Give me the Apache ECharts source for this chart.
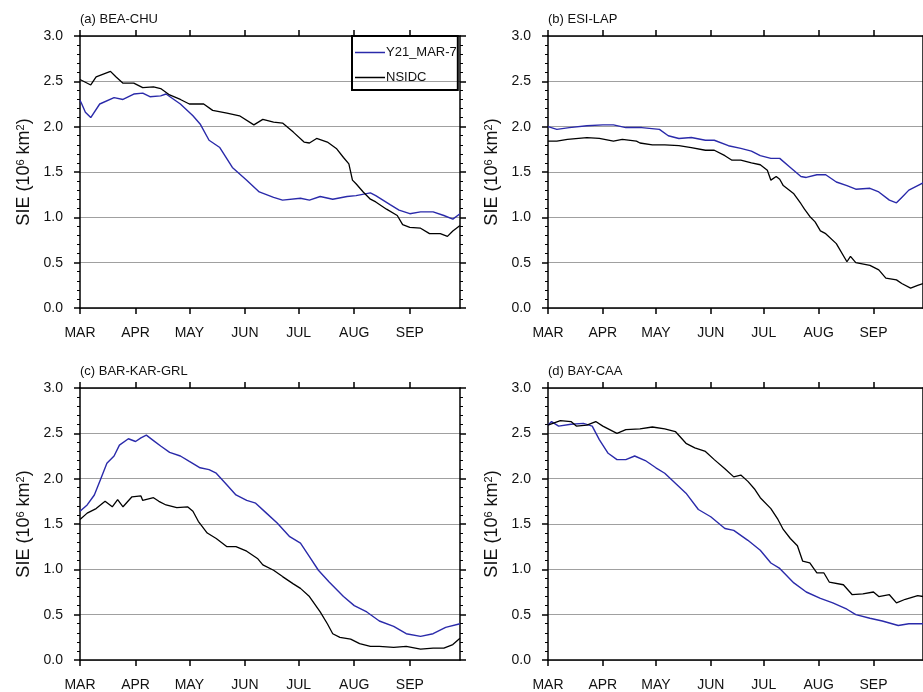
<!DOCTYPE html>
<html>
<head>
<meta charset="utf-8">
<script src="https://cdn.jsdelivr.net/npm/echarts@6/dist/echarts.min.js"></script>
<style>html,body{margin:0;padding:0;background:#fff}#c{width:923px;height:692px}</style>
</head>
<body>
<div id="c"></div>
<script>
// x = day index since 1 March
const monthStarts = [0, 31, 61, 92, 122, 153, 184];
const monthNames = ['MAR', 'APR', 'MAY', 'JUN', 'JUL', 'AUG', 'SEP'];
const yTicks = [0, 0.5, 1.0, 1.5, 2.0, 2.5, 3.0];
const panelTitles = ['(a) BEA-CHU', '(b) ESI-LAP', '(c) BAR-KAR-GRL', '(d) BAY-CAA'];
const seriesNames = ['Y21_MAR-7', 'NSIDC'];

// (a) BEA-CHU
const aModelDays = [0,1,3,6,11,19,24,30,35,39,45,48,56,63,67,72,78,85,93,100,108,113,123,128,134,141,149,154,162,165,173,178,184,190,197,203,208,212];
const aModelSIE  = [2.29,2.25,2.16,2.10,2.25,2.32,2.30,2.36,2.37,2.33,2.34,2.36,2.25,2.12,2.03,1.85,1.77,1.55,1.41,1.28,1.22,1.19,1.21,1.19,1.23,1.20,1.23,1.24,1.27,1.24,1.14,1.08,1.04,1.06,1.06,1.02,0.98,1.04];
const aObsDays = [0,6,9,13,17,20,24,30,35,41,45,50,56,61,69,74,82,89,97,102,108,113,119,125,128,132,138,143,147,150,152,154,158,162,165,171,177,180,184,190,195,201,205,208,212];
const aObsSIE  = [2.52,2.46,2.55,2.58,2.61,2.55,2.48,2.48,2.43,2.44,2.42,2.35,2.30,2.25,2.25,2.18,2.15,2.12,2.02,2.08,2.05,2.04,1.94,1.83,1.82,1.87,1.83,1.76,1.66,1.59,1.41,1.37,1.28,1.20,1.17,1.09,1.02,0.92,0.89,0.88,0.82,0.82,0.79,0.85,0.91];

// (b) ESI-LAP
const bModelDays = [0,5,12,22,31,37,44,53,63,68,74,81,89,94,102,109,115,120,126,131,137,143,146,152,157,163,169,174,182,187,193,197,200,204,209,212];
const bModelSIE  = [2.00,1.97,1.99,2.01,2.02,2.02,1.99,1.99,1.97,1.90,1.87,1.88,1.85,1.85,1.79,1.76,1.73,1.68,1.65,1.65,1.55,1.45,1.44,1.47,1.47,1.39,1.35,1.31,1.32,1.28,1.19,1.16,1.22,1.30,1.35,1.38];
const bObsDays = [0,5,11,22,29,37,42,50,52,59,66,74,81,89,94,100,104,109,115,120,124,126,129,131,133,139,143,145,148,151,154,157,163,169,171,174,182,187,191,197,200,205,209,212];
const bObsSIE  = [1.84,1.84,1.86,1.88,1.87,1.84,1.86,1.84,1.82,1.80,1.80,1.79,1.77,1.74,1.74,1.68,1.63,1.63,1.60,1.58,1.52,1.41,1.45,1.42,1.35,1.26,1.15,1.09,1.01,0.95,0.85,0.82,0.71,0.51,0.57,0.50,0.47,0.42,0.33,0.31,0.27,0.22,0.25,0.27];

// (c) BAR-KAR-GRL
const cModelDays = [0,4,8,11,15,19,22,27,31,34,37,41,45,50,56,61,67,72,76,82,87,93,98,104,110,117,123,128,133,139,147,153,160,167,175,182,190,197,204,212];
const cModelSIE  = [1.64,1.71,1.82,1.97,2.17,2.25,2.37,2.44,2.41,2.45,2.48,2.42,2.36,2.29,2.25,2.19,2.12,2.10,2.06,1.93,1.82,1.76,1.73,1.62,1.51,1.36,1.29,1.14,0.99,0.86,0.70,0.60,0.53,0.43,0.37,0.29,0.26,0.29,0.36,0.40];
const cObsDays = [0,4,9,14,18,21,24,29,34,35,41,44,48,54,60,63,66,71,76,82,87,93,99,102,108,113,119,123,128,134,138,141,145,151,156,162,167,175,182,190,197,203,208,212];
const cObsSIE  = [1.55,1.62,1.67,1.75,1.69,1.77,1.69,1.80,1.81,1.76,1.79,1.75,1.71,1.68,1.69,1.64,1.53,1.40,1.34,1.25,1.25,1.20,1.12,1.05,0.99,0.92,0.84,0.79,0.70,0.53,0.40,0.29,0.25,0.23,0.18,0.15,0.15,0.14,0.15,0.12,0.13,0.13,0.17,0.24];

// (d) BAY-CAA
const dModelDays = [0,2,6,13,20,25,29,34,39,44,49,55,61,66,72,78,85,92,100,105,113,120,126,131,139,146,154,161,169,174,182,189,198,204,209,212];
const dModelSIE  = [2.59,2.63,2.58,2.60,2.61,2.58,2.43,2.28,2.21,2.21,2.25,2.20,2.12,2.06,1.95,1.84,1.66,1.58,1.45,1.43,1.32,1.21,1.07,1.01,0.85,0.75,0.68,0.63,0.56,0.50,0.46,0.43,0.38,0.40,0.40,0.40];
const dObsDays = [0,7,13,16,22,27,31,39,44,52,59,66,72,78,83,89,94,100,105,109,113,117,120,126,130,133,137,141,144,148,152,156,159,167,172,178,184,187,193,197,202,209,212];
const dObsSIE  = [2.59,2.64,2.63,2.58,2.59,2.63,2.58,2.50,2.54,2.55,2.57,2.55,2.52,2.39,2.34,2.30,2.21,2.11,2.02,2.04,1.97,1.88,1.79,1.67,1.55,1.44,1.34,1.26,1.09,1.07,0.96,0.96,0.86,0.83,0.72,0.73,0.75,0.70,0.72,0.63,0.67,0.71,0.70];

const panels = [
  [aModelDays, aModelSIE, aObsDays, aObsSIE],
  [bModelDays, bModelSIE, bObsDays, bObsSIE],
  [cModelDays, cModelSIE, cObsDays, cObsSIE],
  [dModelDays, dModelSIE, dObsDays, dObsSIE]
];

function zip(d, v) { const n = Math.min(d.length, v.length); const o = []; for (let i = 0; i < n; i++) o.push([d[i], v[i]]); return o; }

const FONT = 'Liberation Sans, Arial, Helvetica, sans-serif';
const BLUE = '#2a2aaa';
const gridPos = [
  {left: 80, top: 36, width: 380, height: 272},
  {left: 548, top: 36, width: 380, height: 272},
  {left: 80, top: 388, width: 380, height: 272},
  {left: 548, top: 388, width: 380, height: 272}
];

const grid = [], xAxis = [], yAxis = [], series = [], title = [];
gridPos.forEach((g, i) => {
  grid.push(Object.assign({containLabel: false}, g));
  title.push({text: panelTitles[i], left: g.left, top: g.top - 23, padding: 0,
    textStyle: {fontFamily: FONT, fontSize: 13, fontWeight: 'normal', color: '#111'}});
  const axLine = {show: true, onZero: false, lineStyle: {color: '#000', width: 1.5}};
  xAxis.push({type: 'value', gridIndex: i, min: 0, max: 212, position: 'bottom',
    axisLine: axLine, splitLine: {show: false},
    axisTick: {show: true, inside: false, length: 6, customValues: monthStarts, lineStyle: {color: '#000', width: 1.5}},
    axisLabel: {show: true, margin: 18, customValues: monthStarts, fontFamily: FONT, fontSize: 14, color: '#111',
      formatter: v => monthNames[monthStarts.indexOf(Math.round(v))] || ''}});
  xAxis.push({type: 'value', gridIndex: i, min: 0, max: 212, position: 'top',
    axisLine: axLine, splitLine: {show: false},
    axisTick: {show: true, inside: false, length: 6, customValues: monthStarts, lineStyle: {color: '#000', width: 1.5}},
    axisLabel: {show: false}});
  const common = {type: 'value', gridIndex: i, min: 0, max: 3, interval: 0.5,
    axisLine: axLine,
    axisTick: {show: true, inside: false, length: 6, lineStyle: {color: '#000', width: 1.5}},
    minorTick: {show: true, splitNumber: 5, length: 3, lineStyle: {color: '#000', width: 1}}};
  yAxis.push(Object.assign({}, common, {position: 'left',
    splitLine: {show: true, lineStyle: {color: '#a0a0a0', width: 1}},
    axisLabel: {show: true, margin: 17, fontFamily: FONT, fontSize: 14, color: '#111', formatter: v => v.toFixed(1)},
    name: '{n|SIE (10}{s|6}{n| km}{s|2}{n|)}', nameLocation: 'middle', nameGap: 46,
    nameTextStyle: {fontFamily: FONT, color: '#111',
      rich: {n: {fontFamily: FONT, fontSize: 18, color: '#111'},
             s: {fontFamily: FONT, fontSize: 11, color: '#111', verticalAlign: 'top', padding: [0, 0, 8, 0]}}}}));
  yAxis.push(Object.assign({}, common, {position: 'right', splitLine: {show: false}, axisLabel: {show: false}}));
  const p = panels[i];
  series.push({name: seriesNames[0], type: 'line', xAxisIndex: 2 * i, yAxisIndex: 2 * i,
    data: zip(p[0], p[1]), showSymbol: false, symbol: 'none', lineStyle: {color: BLUE, width: 1.4}, itemStyle: {color: BLUE}, z: 3});
  series.push({name: seriesNames[1], type: 'line', xAxisIndex: 2 * i, yAxisIndex: 2 * i,
    data: zip(p[2], p[3]), showSymbol: false, symbol: 'none', lineStyle: {color: '#000', width: 1.3}, itemStyle: {color: '#000'}, z: 3});
});

const chart = echarts.init(document.getElementById('c'), null, {renderer: 'canvas'});
chart.setOption({
  animation: false,
  backgroundColor: '#fff',
  title: title,
  legend: {data: seriesNames, orient: 'vertical', left: 352, top: 36, itemWidth: 30, itemHeight: 1.5, itemGap: 12,
    icon: 'rect',
    padding: [10, 1, 6, 3], borderColor: '#000', borderWidth: 2,
    selectedMode: false,
    textStyle: {fontFamily: FONT, fontSize: 13, color: '#111', padding: [0, 0, 0, -4]}},
  grid: grid, xAxis: xAxis, yAxis: yAxis, series: series
});
</script>
</body>
</html>
